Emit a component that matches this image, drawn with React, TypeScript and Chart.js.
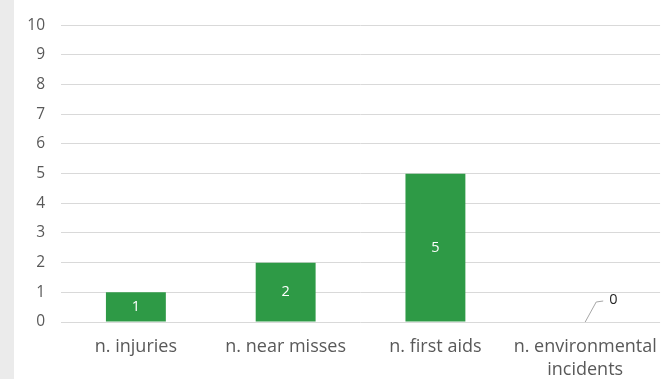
import React, { useEffect, useRef } from "react";
import { Chart, registerables } from "chart.js";

Chart.register(...registerables);

const categories: (string | string[])[] = [
  "n. injuries",
  "n. near misses",
  "n. first aids",
  ["n. environmental", "incidents"],
];
const values: number[] = [1, 2, 5, 0];
const yTicks: number[] = [0, 1, 2, 3, 4, 5, 6, 7, 8, 9, 10];

const FONT = "'Open Sans', sans-serif";

const labelPlugin = {
  id: "valueLabels",
  afterDatasetsDraw(chart: any) {
    const ctx = chart.ctx;
    const meta = chart.getDatasetMeta(0);
    const yScale = chart.scales.y;
    ctx.save();
    ctx.font = `14.5px ${FONT}`;
    ctx.textBaseline = "middle";
    meta.data.forEach((bar: any, i: number) => {
      const v = values[i];
      if (v > 0) {
        ctx.fillStyle = "#ffffff";
        ctx.textAlign = "center";
        const yMid = (bar.y + bar.base) / 2;
        ctx.fillText(String(v), bar.x, yMid);
      } else {
        const y0 = yScale.getPixelForValue(v);
        ctx.strokeStyle = "#a6a6a6";
        ctx.lineWidth = 1;
        ctx.beginPath();
        ctx.moveTo(bar.x, y0);
        ctx.lineTo(bar.x + 11, y0 - 20);
        ctx.lineTo(bar.x + 18, y0 - 21);
        ctx.stroke();
        ctx.fillStyle = "#262626";
        ctx.textAlign = "left";
        ctx.fillText(String(v), bar.x + 24, y0 - 22);
      }
    });
    ctx.restore();
  },
};

export default function App() {
  const ref = useRef<HTMLCanvasElement | null>(null);
  useEffect(() => {
    if (!ref.current) return;
    const chart = new Chart(ref.current, {
      type: "bar",
      data: {
        labels: categories,
        datasets: [
          {
            data: values,
            backgroundColor: "#2e9a46",
            borderWidth: 0,
            categoryPercentage: 1,
            barPercentage: 0.4,
          },
        ],
      },
      options: {
        animation: false,
        responsive: false,
        maintainAspectRatio: false,
        layout: { padding: { top: 22, right: 10, left: 0, bottom: 0 } },
        plugins: {
          legend: { display: false },
          tooltip: { enabled: false },
        },
        scales: {
          x: {
            grid: { display: false, drawTicks: false },
            border: { display: false },
            ticks: {
              color: "#595959",
              font: { family: FONT, size: 18, lineHeight: 1.3 },
              padding: 13,
              maxRotation: 0,
              autoSkip: false,
            },
            afterFit: (scale: any) => {
              scale.height = 57;
            },
          },
          y: {
            min: 0,
            max: 10,
            afterBuildTicks: (scale: any) => {
              scale.ticks = yTicks.map((v) => ({ value: v }));
            },
            grid: { color: "#d9d9d9", drawTicks: false, lineWidth: 1 },
            border: { display: false },
            ticks: {
              color: "#595959",
              font: { family: FONT, size: 15.5 },
              padding: 16,
            },
            afterFit: (scale: any) => {
              scale.width = 61;
            },
          },
        },
      },
      plugins: [labelPlugin],
    });
    return () => chart.destroy();
  }, []);
  return (
    <div
      style={{
        position: "absolute",
        left: 0,
        top: 0,
        width: 671,
        height: 379,
        background: "#ffffff",
        overflow: "hidden",
      }}
    >
      <div
        style={{
          position: "absolute",
          left: 0,
          top: 0,
          width: 14,
          height: 379,
          background: "#ebebeb",
        }}
      />
      <canvas
        ref={ref}
        width={671}
        height={379}
        style={{ position: "absolute", left: 0, top: 0, width: 671, height: 379 }}
      />
    </div>
  );
}
